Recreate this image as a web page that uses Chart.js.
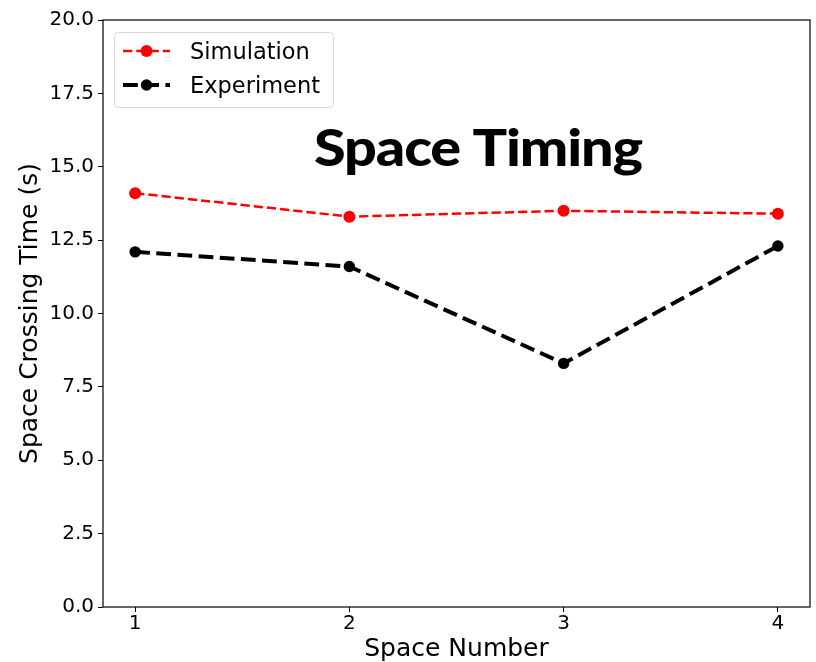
<!DOCTYPE html>
<html><head><meta charset="utf-8">
<script src="https://cdn.jsdelivr.net/npm/chart.js@4"></script>
<style>html,body{margin:0;padding:0;background:#fff}#wrap{width:816px;height:662px}</style>
</head><body><div id="wrap"><canvas id="c" width="816" height="662"></canvas></div>
<script>
const spaceNumbers = [1, 2, 3, 4];
const simulationTimes = [14.1, 13.3, 13.5, 13.4];
const experimentTimes = [12.1, 11.6, 8.3, 12.3];
const yTickValues = [0, 2.5, 5, 7.5, 10, 12.5, 15, 17.5, 20];
const seriesNames = ['Simulation', 'Experiment'];
const chartTitle = 'Space Timing';
const xAxisTitle = 'Space Number';
const yAxisTitle = 'Space Crossing Time (s)';

const FONT = "'DejaVu Sans', sans-serif";

const framePlugin = {
  id: 'frameTitleLegend',
  afterDatasetsDraw(chart) {
    const ctx = chart.ctx, ca = chart.chartArea;
    ctx.save();
    // frame
    ctx.strokeStyle = '#000';
    ctx.lineWidth = 1.2;
    ctx.setLineDash([]);
    ctx.strokeRect(ca.left, ca.top, ca.right - ca.left, ca.bottom - ca.top);
    // title inside axes
    ctx.fillStyle = '#000';
    ctx.font = "900 51px Lato, sans-serif";
    ctx.letterSpacing = '-1px';
    const targetW = 328;
    const w = ctx.measureText(chartTitle).width;
    const sx = targetW / w;
    ctx.textAlign = 'left';
    ctx.textBaseline = 'alphabetic';
    ctx.save();
    ctx.translate(ca.left + 211, ca.top + 146);
    ctx.scale(sx, 1);
    ctx.fillText(chartTitle, 0, 0);
    ctx.restore();
    ctx.letterSpacing = '0px';
    // legend
    const bx = ca.left + 11, by = ca.top + 12, bw = 219, bh = 75;
    ctx.beginPath();
    ctx.roundRect(bx + 0.5, by + 0.5, bw, bh, 4);
    ctx.fillStyle = 'rgba(255,255,255,0.8)';
    ctx.fill();
    ctx.strokeStyle = '#d9d9d9';
    ctx.lineWidth = 1;
    ctx.stroke();
    chart.data.datasets.forEach((ds, i) => {
      const cy = ca.top + 31 + i * 34;
      const x0 = ca.left + 20, x1 = x0 + 47;
      ctx.beginPath();
      ctx.setLineDash(ds.borderDash);
      ctx.lineDashOffset = 0;
      ctx.lineCap = 'butt';
      ctx.strokeStyle = ds.borderColor;
      ctx.lineWidth = ds.borderWidth;
      ctx.moveTo(x0, cy);
      ctx.lineTo(x1, cy);
      ctx.stroke();
      ctx.setLineDash([]);
      ctx.beginPath();
      ctx.arc((x0 + x1) / 2, cy, ds.pointRadius, 0, Math.PI * 2);
      ctx.fillStyle = ds.pointBackgroundColor;
      ctx.fill();
      ctx.fillStyle = '#000';
      ctx.font = "22.5px " + FONT;
      ctx.textBaseline = 'alphabetic';
      ctx.fillText(ds.label, ca.left + 87, cy + 8);
    });
    ctx.restore();
  }
};

new Chart(document.getElementById('c'), {
  type: 'line',
  data: {
    datasets: [
      {
        label: seriesNames[0],
        data: spaceNumbers.map((x, i) => ({x, y: simulationTimes[i]})),
        borderColor: '#ff0000',
        backgroundColor: '#ff0000',
        pointBackgroundColor: '#ff0000',
        pointBorderColor: '#ff0000',
        pointBorderWidth: 0,
        borderWidth: 2.5,
        borderDash: [9.25, 4],
        pointRadius: 6,
        pointHoverRadius: 6,
        tension: 0,
        fill: false
      },
      {
        label: seriesNames[1],
        data: spaceNumbers.map((x, i) => ({x, y: experimentTimes[i]})),
        borderColor: '#000000',
        backgroundColor: '#000000',
        pointBackgroundColor: '#000000',
        pointBorderColor: '#000000',
        pointBorderWidth: 0,
        borderWidth: 4,
        borderDash: [14.8, 6.4],
        pointRadius: 5.7,
        pointHoverRadius: 5.7,
        tension: 0,
        fill: false
      }
    ]
  },
  options: {
    responsive: false,
    animation: false,
    devicePixelRatio: 1,
    layout: {padding: {top: 20, right: 5, left: 0, bottom: 0}},
    plugins: {legend: {display: false}, tooltip: {enabled: false}, title: {display: false}},
    scales: {
      x: {
        type: 'linear',
        min: 0.85, max: 4.15,
        afterFit(s) { s.height = 55; },
        afterBuildTicks(s) { s.ticks = spaceNumbers.map(v => ({value: v})); },
        grid: {display: true, drawOnChartArea: false, drawTicks: true, tickLength: 5, tickColor: '#000', tickWidth: 1},
        border: {display: false},
        ticks: {color: '#000', font: {family: FONT, size: 20}, padding: 0, maxRotation: 0, autoSkip: false, callback: v => String(v)},
        title: {display: true, text: xAxisTitle, color: '#000', font: {family: FONT, size: 25, lineHeight: 1}, padding: {top: 0, bottom: 0}}
      },
      y: {
        type: 'linear',
        min: 0, max: 20,
        afterFit(s) { s.width = 103; },
        afterBuildTicks(s) { s.ticks = yTickValues.map(v => ({value: v})); },
        grid: {display: true, drawOnChartArea: false, drawTicks: true, tickLength: 5, tickColor: '#000', tickWidth: 1},
        border: {display: false},
        ticks: {color: '#000', font: {family: FONT, size: 20}, padding: 4, autoSkip: false, callback: v => v.toFixed(1)},
        title: {display: true, text: yAxisTitle, color: '#000', font: {family: FONT, size: 25, lineHeight: 1}, padding: {top: 17.5, bottom: 0}}
      }
    }
  },
  plugins: [framePlugin]
});
</script>
</body></html>
